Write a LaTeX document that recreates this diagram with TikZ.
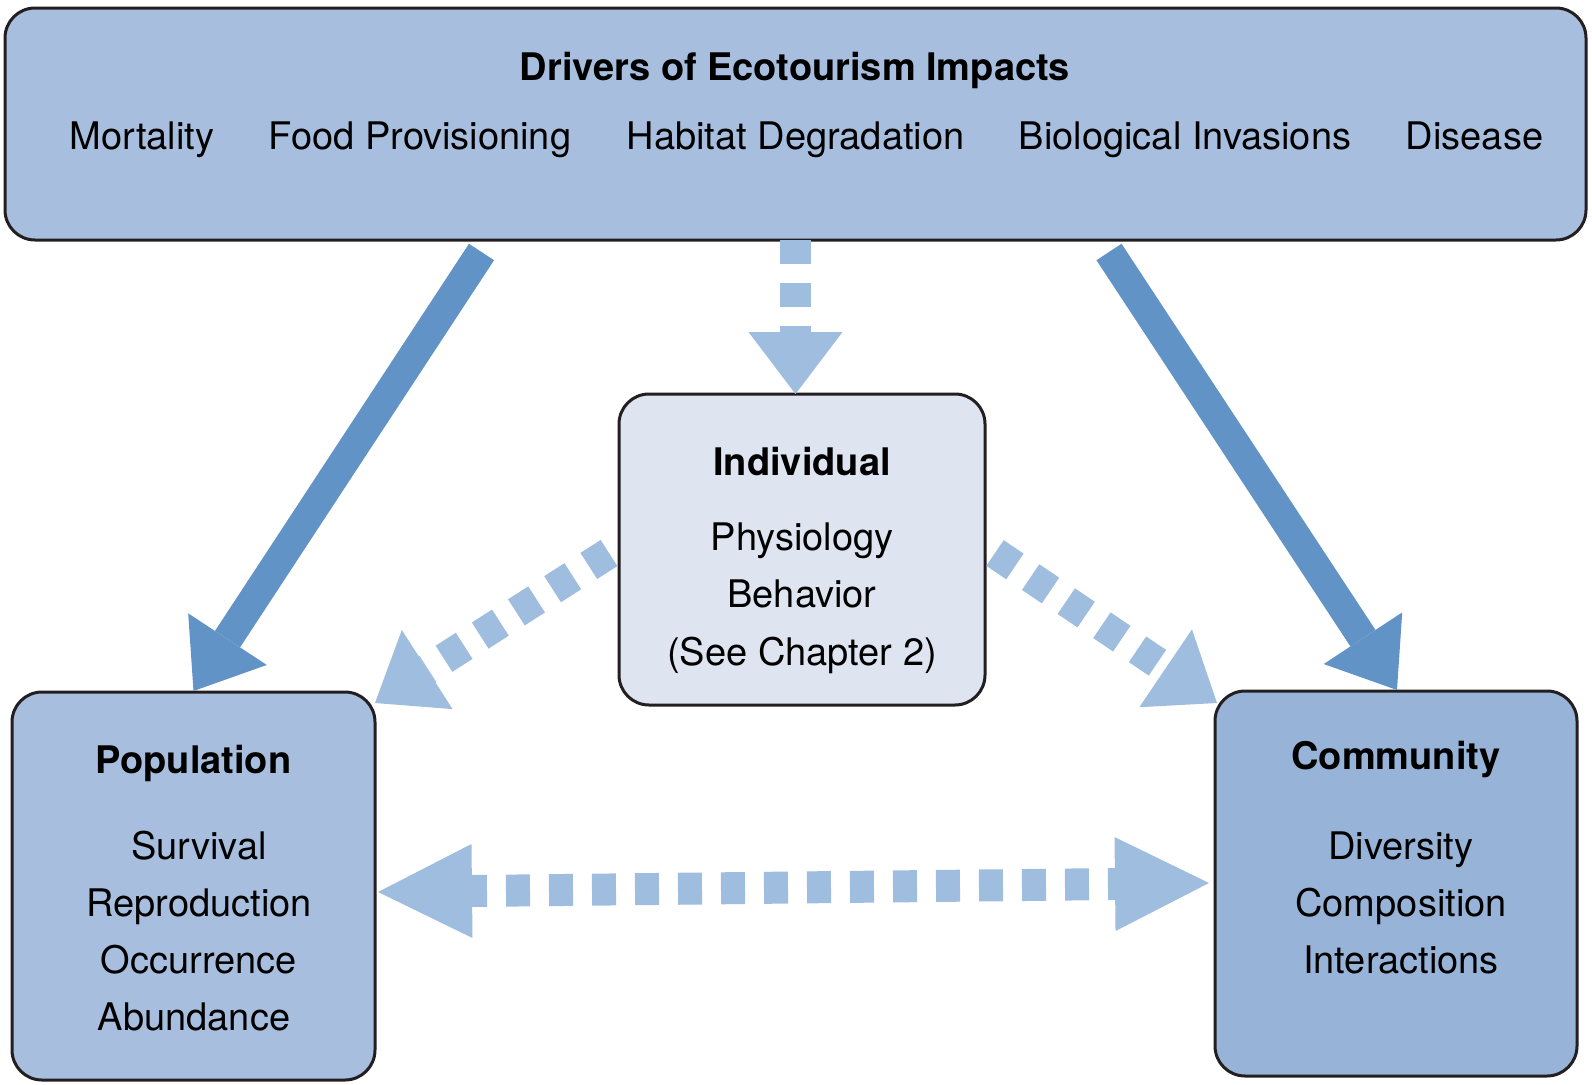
\documentclass[tikz,border=0pt]{standalone}
\usepackage{fontspec}
\setmainfont{TeX Gyre Heros}
\usepackage{tikz}
\usetikzlibrary{arrows.meta,calc}
\definecolor{boxfill}{HTML}{A7BEDE}
\definecolor{comfill}{HTML}{97B3D8}
\definecolor{indfill}{HTML}{DEE5F0}
\definecolor{arrowdark}{HTML}{6193C6}
\definecolor{arrowlight}{HTML}{9EBDDF}
\definecolor{edge}{HTML}{231F20}

\begin{document}
\begin{tikzpicture}[x=1pt,y=-1pt,
  box/.style={draw=edge,line width=3pt,rounded corners=30pt,outer sep=0pt,inner sep=0pt},
  txt/.style={font=\fontsize{38}{46}\selectfont,anchor=base,inner sep=0pt},
  ttl/.style={txt,font=\fontsize{38}{46}\selectfont\bfseries},
  bigarrow/.style={arrowdark,line width=30pt,-{Triangle[width=94pt,length=62pt,line width=0pt]}},
  dasharrow/.style={arrowlight,line width=31pt,dash pattern=on 24pt off 19pt,-{Triangle[width=94pt,length=62pt,line width=0pt]}},
  twoway/.style={arrowlight,line width=32pt,dash pattern=on 24pt off 19pt,dash phase=9pt,{Triangle[width=94pt,length=94pt,line width=0pt]}-{Triangle[width=94pt,length=94pt,line width=0pt]}}]
\useasboundingbox (0,0) rectangle (1592,1084);
% boxes
\node[box,fill=boxfill,minimum width=1581pt,minimum height=232pt] (drv) at (795.5,124) {};
\node[box,fill=indfill,minimum width=366pt,minimum height=311pt] (ind) at (802,549.5) {};
\node[box,fill=boxfill,minimum width=363pt,minimum height=388pt] (pop) at (193.5,886) {};
\node[box,fill=comfill,minimum width=362pt,minimum height=385pt] (com) at (1396,883.5) {};
% drivers
\node[ttl] (drvT) at (795,80) {Drivers of Ecotourism Impacts};
\foreach \t/\x [count=\i] in {Mortality/142,Food Provisioning/420,Habitat Degradation/795.5,Biological Invasions/1185,Disease/1474.5}
  \node[txt] (drv-\i) at (\x,149) {\t};
% levels
\node[ttl] (indT) at (802,475) {Individual};
\foreach \t [count=\i] in {Physiology,Behavior,{(See Chapter 2)}}
  \node[txt] (ind-\i) at (802,{550+57.5*(\i-1)}) {\t};
\node[ttl] (popT) at (193.5,773) {Population};
\foreach \t/\x [count=\i] in {Survival/199,Reproduction/199,Occurrence/199,Abundance/194}
  \node[txt] (pop-\i) at (\x,{859+57*(\i-1)}) {\t};
\node[ttl] (comT) at (1396,769) {Community};
\foreach \t [count=\i] in {Diversity,Composition,Interactions}
  \node[txt] (com-\i) at (1401,{859+57*(\i-1)}) {\t};
% arrows
\coordinate (l0) at ($(drv.south west)+(476.5,12)$);
\coordinate (r0) at ($(drv.south east)+(-477,12)$);
\draw[bigarrow] (l0) -- ($(pop.north)+(0,-1)$);
\draw[bigarrow] (r0) -- ($(com.north)+(1,-1)$);
\draw[dasharrow] (drv.south) -- (drv.south |- ind.north);
\draw[dasharrow] ($(ind.west)+(-10,3.5)$) -- ($(pop.north east)+(0,11)$);
\draw[dasharrow] ($(ind.east)+(10,3.5)$) -- ($(com.north west)+(2,12)$);
\draw[twoway] ($(pop.east)+(3,6)$) -- ($(com.west)+(-6,-0.5)$);
\end{tikzpicture}
\end{document}
